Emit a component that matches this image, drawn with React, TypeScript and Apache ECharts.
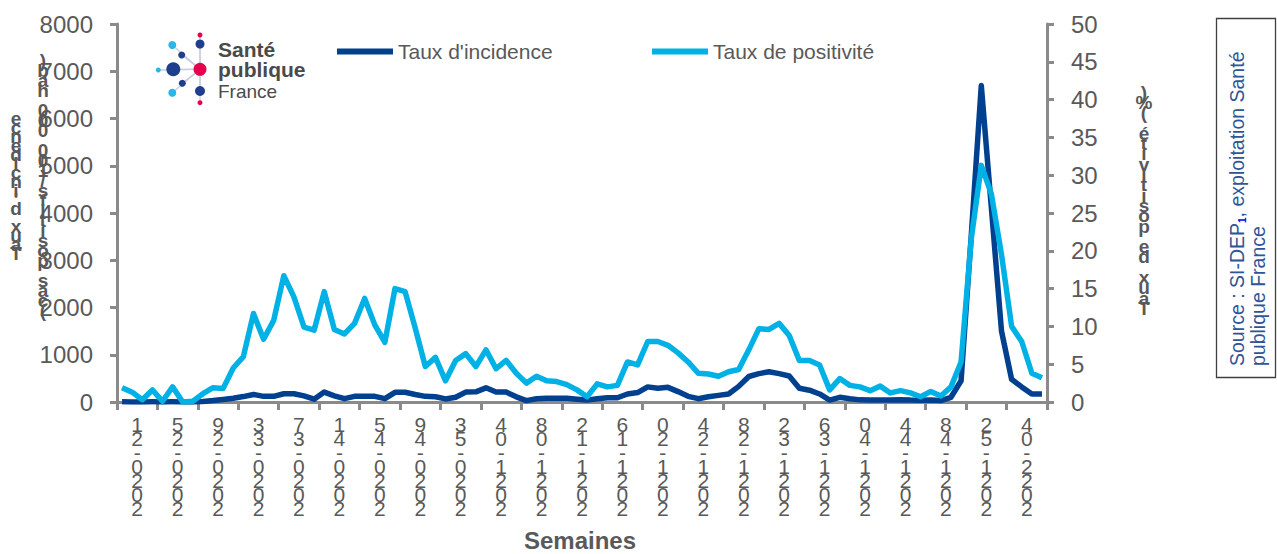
import React, { useEffect, useRef } from "react";
import * as echarts from "echarts";

// ---- DATA ----
const years: [number, number, number][] = [
  [2020, 21, 53],
  [2021, 1, 52],
  [2022, 1, 7],
];
function buildWeeks(): string[] {
  const out: string[] = [];
  years.forEach(([y, a, b]) => {
    for (let w = a; w <= b; w++) out.push(`${y}-${w < 10 ? "0" + w : w}`);
  });
  return out;
}
const weeks = buildWeeks();

const tickLabels = [
  "2020-21", "2020-25", "2020-29", "2020-33", "2020-37", "2020-41", "2020-45", "2020-49", "2020-53",
  "2021-04", "2021-08", "2021-12", "2021-16", "2021-20", "2021-24", "2021-28", "2021-32", "2021-36",
  "2021-40", "2021-44", "2021-48", "2021-52", "2022-04",
];

const incidence = [
  3, 2, 2, 3, 2, 3, 2, 2, 10, 30,
  55, 80, 115, 160, 120, 120, 175, 175, 130, 60,
  210, 130, 70, 120, 120, 120, 70, 205, 205, 160,
  120, 110, 65, 100, 210, 215, 300, 210, 210, 110,
  30, 70, 80, 80, 80, 60, 40, 70, 90, 90,
  170, 200, 320, 290, 310, 220, 120, 70, 110, 140,
  170, 330, 540, 600, 640, 600, 550, 290, 250, 170,
  40, 100, 70, 45, 40, 40, 40, 50, 40, 35,
  40, 30, 100, 450, 3500, 6700, 4100, 1500, 480, 320,
  170, 170,
];

const positivite = [
  1.9, 1.3, 0.3, 1.6, 0.1, 2.0, 0.0, 0.1, 1.1, 1.9,
  1.8, 4.5, 6.0, 11.7, 8.3, 10.8, 16.7, 13.9, 9.9, 9.5,
  14.6, 9.6, 9.0, 10.4, 13.7, 10.2, 7.9, 15.0, 14.6, 9.8,
  4.7, 5.9, 2.8, 5.5, 6.4, 4.7, 6.9, 4.4, 5.5, 3.8,
  2.5, 3.4, 2.8, 2.7, 2.3, 1.6, 0.7, 2.4, 2.0, 2.2,
  5.3, 4.9, 8.0, 8.0, 7.5, 6.5, 5.3, 3.8, 3.7, 3.4,
  4.0, 4.3, 6.9, 9.7, 9.6, 10.4, 8.8, 5.5, 5.5, 4.9,
  1.6, 3.1, 2.2, 2.0, 1.5, 2.1, 1.2, 1.5, 1.2, 0.7,
  1.4, 0.8, 2.0, 5.3, 21.5, 31.3, 27.5, 19.5, 10.0, 8.0,
  3.8, 3.2,
];

const seriesNames = ["Taux d'incidence", "Taux de positivité"];
const leftTitle1 = "Taux d'incidence";
const leftTitle2 = "(cas positifs/100 000 hab)";
const rightTitle = "Taux de positivité (%)";
const xTitle = "Semaines";

// ---- STYLE ----
const DARK = "#00408E";
const LIGHT = "#00B1E6";
const AXIS = "#8A8A8A";
const TXT = "#595959";
const FONT = "Liberation Sans";

const stack = (s: string) => s.split("").reverse().join("\n");

const logoDots: [number, number, number, string][] = [
  [200, 35, 2.5, "#E5004F"],
  [200, 44, 4.5, "#1F3E8C"],
  [172.3, 45, 4, "#2CB6E8"],
  [181.7, 55, 3.5, "#1F3E8C"],
  [173.3, 69.3, 7, "#1F3E8C"],
  [158.3, 70, 2.5, "#2CB6E8"],
  [182.3, 83.3, 3.5, "#1F3E8C"],
  [172.3, 92.7, 4, "#2CB6E8"],
  [200, 91, 5, "#1F3E8C"],
  [200, 102.7, 2.5, "#E5004F"],
];

export default function App() {
  const ref = useRef<HTMLDivElement>(null);
  useEffect(() => {
    document.body.style.margin = "0";
    if (!ref.current) return;
    const chart = echarts.init(ref.current, undefined, { renderer: "svg" });

    const graphic: any[] = [];
    logoDots.forEach(([cx, cy]) => {
      graphic.push({
        type: "line",
        shape: { x1: 200, y1: 69.3, x2: cx, y2: cy },
        style: { stroke: "#C9CCE0", lineWidth: 1.3 },
        silent: true,
      });
    });
    logoDots.forEach(([cx, cy, r, c]) => {
      graphic.push({ type: "circle", shape: { cx, cy, r }, style: { fill: c }, silent: true });
    });
    graphic.push({ type: "circle", shape: { cx: 200, cy: 69.3, r: 6.5 }, style: { fill: "#E5004F" } });
    const logoText = (t: string, y: number, bold: boolean, size: number) => ({
      type: "text",
      x: 218,
      y,
      style: {
        text: t, fill: "#4A4A4A", fontFamily: FONT, fontSize: size,
        fontWeight: bold ? "bold" : "normal", align: "left", verticalAlign: "middle",
        textAlign: "left", textVerticalAlign: "middle",
      },
    });
    graphic.push(logoText("Santé", 49, true, 21));
    graphic.push(logoText("publique", 69, true, 21));
    graphic.push(logoText("France", 91, false, 19));

    const stacked = (t: string, x: number, y: number, lh: number, size: number, bold: boolean) => ({
      type: "text",
      x,
      y,
      style: {
        text: stack(t), fill: TXT, fontFamily: FONT, fontSize: size, lineHeight: lh,
        fontWeight: bold ? "bold" : "normal", align: "center", verticalAlign: "top",
        textAlign: "center", textVerticalAlign: "top",
      },
    });
    graphic.push(stacked(leftTitle1, 16, 114, 9, 19, true));
    graphic.push(stacked(leftTitle2, 43, 55, 10, 19, true));
    graphic.push(stacked(rightTitle, 1144, 87, 10.3, 19, true));

    graphic.push({
      type: "text",
      x: 580,
      y: 540,
      style: {
        text: xTitle, fill: TXT, fontFamily: FONT, fontSize: 24, fontWeight: "bold",
        align: "center", verticalAlign: "middle", textAlign: "center", textVerticalAlign: "middle",
      },
    });

    graphic.push({
      type: "rect",
      shape: { x: 1216.5, y: 18.5, width: 59, height: 359 },
      style: { fill: "#fff", stroke: "#404040", lineWidth: 1.3 },
    });
    graphic.push({
      type: "text",
      x: 1226,
      y: 366,
      rotation: Math.PI / 2,
      style: {
        text: "{a|Source : SI-DEP}{s|1}{a|, exploitation Santé}\n{a|publique France}",
        align: "left", verticalAlign: "top", textAlign: "left", textVerticalAlign: "top",
        rich: {
          a: { fontFamily: FONT, fontSize: 19.5, fill: "#2F5597", color: "#2F5597", lineHeight: 21 },
          s: { fontFamily: FONT, fontSize: 10, fontWeight: "bold", fill: "#0000FF", color: "#0000FF", lineHeight: 21, verticalAlign: "bottom" },
        },
      },
    });

    const axisLabelStyle = {
      color: TXT, fontFamily: FONT, fontSize: 24, margin: 24,
      formatter: (v: number) => String(v),
    };
    const legendText = { color: TXT, fontFamily: FONT, fontSize: 21 };

    chart.setOption({
      animation: false,
      grid: { left: 117, right: 230, top: 24, bottom: 152, containLabel: false },
      legend: [
        {
          data: [seriesNames[0]], left: 337, top: 41, padding: 0, icon: "rect", itemWidth: 56, itemHeight: 6,
          textStyle: legendText,
        },
        {
          data: [seriesNames[1]], left: 652, top: 41, padding: 0, icon: "rect", itemWidth: 56, itemHeight: 6,
          textStyle: legendText,
        },
      ],
      xAxis: [
        {
          type: "category",
          data: weeks,
          boundaryGap: true,
          axisLine: { lineStyle: { color: AXIS, width: 3 } },
          axisTick: { show: true, interval: (i: number) => i % 4 === 0, length: 8, lineStyle: { color: AXIS, width: 3 } },
          axisLabel: { show: false },
          splitLine: { show: false },
        },
        {
          type: "category",
          data: tickLabels,
          position: "bottom",
          boundaryGap: true,
          axisLine: { show: false },
          axisTick: { show: false },
          axisLabel: {
            interval: 0, color: TXT, fontFamily: FONT, fontSize: 21, lineHeight: 14, margin: 15,
            formatter: (v: string) => stack(v),
          },
          splitLine: { show: false },
        },
      ],
      yAxis: [
        {
          type: "value", min: 0, max: 8000, interval: 1000, position: "left",
          axisLine: { show: true, lineStyle: { color: AXIS, width: 3 } },
          axisTick: { show: true, length: 7, lineStyle: { color: AXIS, width: 3 } },
          axisLabel: axisLabelStyle,
          splitLine: { show: false },
        },
        {
          type: "value", min: 0, max: 50, interval: 5, position: "right",
          axisLine: { show: true, lineStyle: { color: AXIS, width: 3 } },
          axisTick: { show: true, length: 7, lineStyle: { color: AXIS, width: 3 } },
          axisLabel: axisLabelStyle,
          splitLine: { show: false },
        },
      ],
      series: [
        {
          name: seriesNames[0], type: "line", data: incidence, xAxisIndex: 0, yAxisIndex: 0,
          showSymbol: false, symbol: "none", color: DARK,
          lineStyle: { color: DARK, width: 5.5, join: "round" },
        },
        {
          name: seriesNames[1], type: "line", data: positivite, xAxisIndex: 0, yAxisIndex: 1,
          showSymbol: false, symbol: "none", color: LIGHT,
          lineStyle: { color: LIGHT, width: 5.5, join: "round" },
        },
      ],
      graphic,
    });
    return () => chart.dispose();
  }, []);
  return <div ref={ref} style={{ width: 1277, height: 554 }} />;
}
